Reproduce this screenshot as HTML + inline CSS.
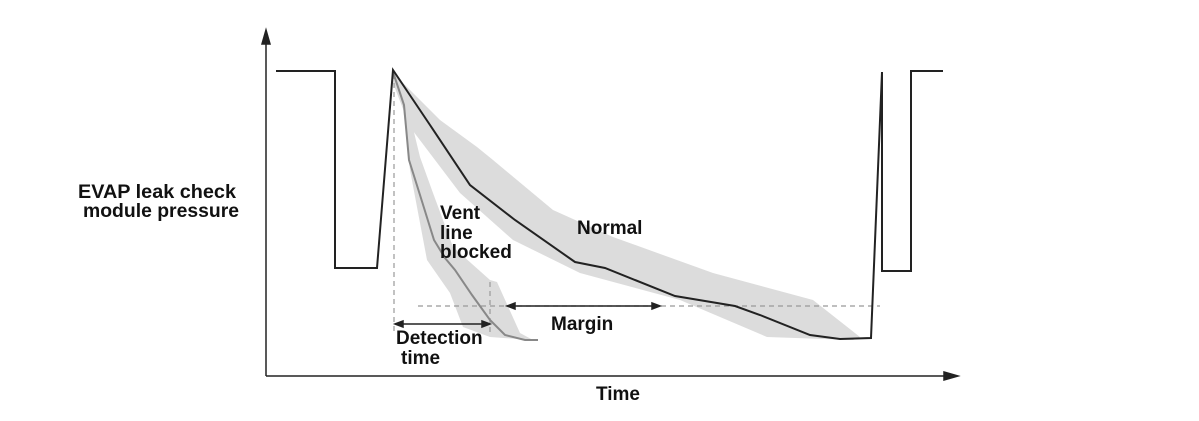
<!DOCTYPE html>
<html><head><style>body{margin:0;background:#fff}svg{display:block}text{font-family:"Liberation Sans",sans-serif;font-weight:bold;font-size:19px;fill:#111}</style></head>
<body><svg width="1199" height="421" viewBox="0 0 1199 421">
<polygon fill="#dcdcdc" points="393,73 440,120 477,147 493,160 553,210 613,237 713,273 813,300 860,337 853,340 767,337 680,300 580,273 513,240 460,193 410,127 393,83"/>
<polygon fill="#dcdcdc" points="403,87 420,157 433,193 453,247 490,280 497,282 520,333 533,340 490,337 463,327 450,293 427,260 410,170 403,107"/>
<g stroke="#999" stroke-width="1.2" stroke-dasharray="5,4" fill="none">
<line x1="394" y1="74" x2="394" y2="332"/>
<line x1="418" y1="306" x2="880" y2="306"/>
<line x1="490" y1="282" x2="490" y2="336"/>
</g>
<polyline fill="none" stroke="#888" stroke-width="2" points="393,72 404,105 409,160 420,195 434,240 445,258 455,270 472,295 490,320 505,335 525,340 538,340"/>
<polyline fill="none" stroke="#222" stroke-width="2" points="276,71 335,71 335,268 377,268 393,70 430,125 470,185 515,220 575,262 605,268 675,296 735,306 760,315 810,335 840,339 871,338 882,72 882,271 911,271 911,71 943,71"/>
<g stroke="#222" stroke-width="1.5" fill="#222">
<line x1="266" y1="38" x2="266" y2="376"/><polygon points="262,44 266,30 270,44"/>
<line x1="266" y1="376" x2="950" y2="376"/><polygon points="944,372 958,376 944,380"/>
<line x1="398" y1="324" x2="487" y2="324"/><polygon points="395,324 403,321 403,327"/><polygon points="490,324 482,321 482,327"/>
<line x1="510" y1="306" x2="657" y2="306"/><polygon points="507,306 515,303 515,309"/><polygon points="660,306 652,303 652,309"/>
</g>
<text x="157" y="198" text-anchor="middle" textLength="158" lengthAdjust="spacingAndGlyphs">EVAP leak check</text>
<text x="161" y="217" text-anchor="middle" textLength="156" lengthAdjust="spacingAndGlyphs">module pressure</text>
<text x="440" y="219">Vent</text><text x="440" y="239">line</text><text x="440" y="258">blocked</text>
<text x="577" y="234">Normal</text>
<text x="551" y="330">Margin</text>
<text x="396" y="344">Detection</text><text x="401" y="364">time</text>
<text x="596" y="400">Time</text>
</svg></body></html>
